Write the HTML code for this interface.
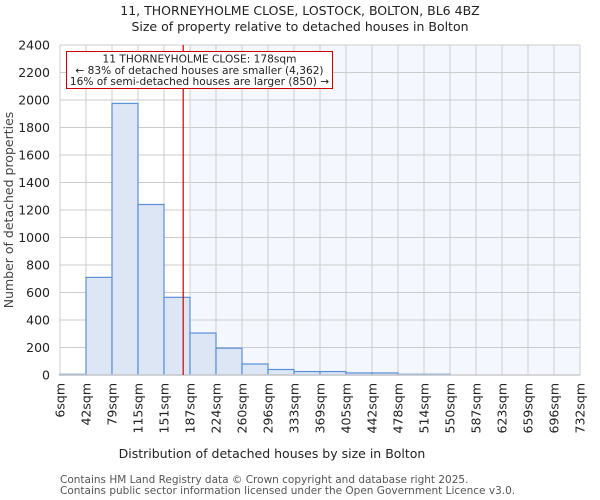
<!DOCTYPE html>
<html><head><meta charset="utf-8"><style>
html,body{margin:0;padding:0;background:#fff;}
svg{display:block;font-family:"DejaVu Sans","Liberation Sans",sans-serif;}
</style></head><body>
<svg id="chart" width="600" height="500" viewBox="0 0 600 500">
<text x="300" y="15" text-anchor="middle" font-size="12.5" fill="#222">11, THORNEYHOLME CLOSE, LOSTOCK, BOLTON, BL6 4BZ</text>
<text x="300" y="31" text-anchor="middle" font-size="12.5" fill="#222">Size of property relative to detached houses in Bolton</text>
<g id="plot"></g>
<text x="272" y="458" text-anchor="middle" font-size="12.5" fill="#222">Distribution of detached houses by size in Bolton</text>
<text transform="translate(13,210) rotate(-90)" text-anchor="middle" font-size="12.5" fill="#444">Number of detached properties</text>
<text x="60" y="483" font-size="10.5" fill="#555">Contains HM Land Registry data © Crown copyright and database right 2025.</text>
<text x="60" y="494" font-size="10.5" fill="#555">Contains public sector information licensed under the Open Government Licence v3.0.</text>
</svg>
<script>
const categories = ["6sqm","42sqm","79sqm","115sqm","151sqm","187sqm","224sqm","260sqm","296sqm","333sqm","369sqm","405sqm","442sqm","478sqm","514sqm","550sqm","587sqm","623sqm","659sqm","696sqm","732sqm"];
const counts = [5,710,1975,1240,565,305,195,80,40,25,25,15,15,5,5,0,0,0,0,0];
const yTicks = [0,200,400,600,800,1000,1200,1400,1600,1800,2000,2200,2400];
const binStart = 6, binEnd = 732;
const propertySize = 178;

const NS="http://www.w3.org/2000/svg";
const g=document.getElementById('plot');
const L=60,R=580,T=45,B=375,yMax=2400;
const nb=counts.length, bw=(R-L)/nb;
const xs=v=>L+(v-binStart)/(binEnd-binStart)*(R-L);
const ys=v=>B-v/yMax*(B-T);
function mk(t,a){const e=document.createElementNS(NS,t);for(const k in a)e.setAttribute(k,a[k]);g.appendChild(e);return e;}

const hb=Math.floor((propertySize-binStart)/((binEnd-binStart)/nb))+1;
let e=mk('rect',{x:L+hb*bw,y:T,width:R-(L+hb*bw),height:B-T,fill:'#f4f7fe'});



yTicks.forEach(v=>{
  let l=mk('line',{x1:L,x2:R,y1:ys(v),y2:ys(v),stroke:'#cccccc','stroke-width':1});
  
  
  let t=mk('text',{x:L-10,y:ys(v)+4.5,'text-anchor':'end','font-size':'12.5',fill:'#222'});
  t.textContent=v;
  
  
});
categories.forEach((c,i)=>{
  const x=L+i*bw;
  let l=mk('line',{x1:x,x2:x,y1:T,y2:B,stroke:'#cccccc','stroke-width':1});
  
  
  let t=mk('text',{transform:`translate(${x+4.5},${B+8}) rotate(-90)`,'text-anchor':'end','font-size':'12.5',fill:'#222'});
  t.textContent=c;
  
  
});

counts.forEach((v,i)=>{
  if(v<=0)return;
  let r=mk('rect',{x:L+i*bw,y:ys(v),width:bw,height:B-ys(v),fill:'#dce6f5',stroke:'#5b8fd6','stroke-width':1.2});
  
  
});
let ax=mk('line',{x1:L,x2:R,y1:B,y2:B,stroke:'#cccccc','stroke-width':1.5});



const px=xs(propertySize);
let m=mk('line',{x1:px,x2:px,y1:T,y2:B,stroke:'#cc0000','stroke-width':1.2});



let box=mk('rect',{x:66.5,y:51.5,width:266,height:37,fill:'#fff',stroke:'#cc0000','stroke-width':1});


["11 THORNEYHOLME CLOSE: 178sqm","← 83% of detached houses are smaller (4,362)","16% of semi-detached houses are larger (850) →"].forEach((s,i)=>{
  let t=mk('text',{x:199.5,y:62.5+i*11.3,'text-anchor':'middle','font-size':'10.6',fill:'#222'});
  t.textContent=s;
  
  
});
</script>
</body></html>
